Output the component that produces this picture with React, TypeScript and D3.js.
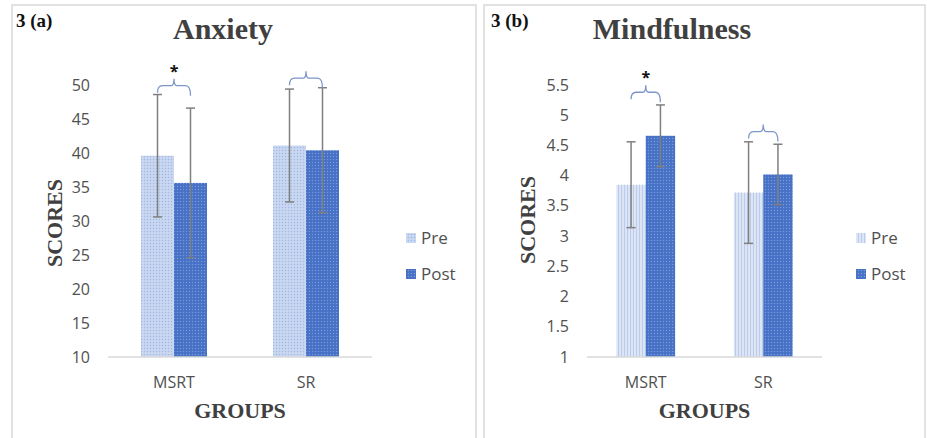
import React from 'react'
import * as d3 from 'd3'

const groups = ['MSRT', 'SR']
const seriesNames = ['Pre', 'Post']

const anxietyPre = [39.6, 41.1]
const anxietyPost = [35.6, 40.4]
const anxietyPreErr = [9.0, 8.3]
const anxietyPostErr = [11.0, 9.2]
const anxietyTicks = [10, 15, 20, 25, 30, 35, 40, 45, 50]
const anxietyBracket = [49.9, 51.0]
const anxietyStar = [true, false]

const mindPre = [3.85, 3.72]
const mindPost = [4.66, 4.02]
const mindPreErr = [0.71, 0.84]
const mindPostErr = [0.51, 0.5]
const mindTicks = [1, 1.5, 2, 2.5, 3, 3.5, 4, 4.5, 5, 5.5]
const mindBracket = [5.38, 4.73]
const mindStar = [true, false]

const serif = '"Liberation Serif", "DejaVu Serif", serif'
const sans = '"Open Sans", "Noto Sans", sans-serif'

type PanelProps = {
  tag: string
  title: string
  titleX: number
  pre: number[]
  post: number[]
  preErr: number[]
  postErr: number[]
  ticks: number[]
  bracket: number[]
  star: boolean[]
  x0: number
  x1: number
  tagX: number
  scoresX: number
  scoresY: number
  legendX: number
  preFill: string
}

function Panel(p: PanelProps) {
  const y = d3
    .scaleLinear()
    .domain([p.ticks[0], p.ticks[p.ticks.length - 1]])
    .range([357, 85])
  const x = d3.scaleBand().domain(groups).range([p.x0, p.x1]).paddingInner(0.5).paddingOuter(0.25)
  const sub = d3.scaleBand().domain(seriesNames).range([0, x.bandwidth()])
  const base = y.domain()[0]

  const series = [
    { name: 'Pre', vals: p.pre, errs: p.preErr, fill: p.preFill },
    { name: 'Post', vals: p.post, errs: p.postErr, fill: 'url(#postPat)' }
  ]

  return (
    <g>
      <text x={p.tagX} y={27} fontFamily={serif} fontWeight="bold" fontSize={19} fill="#111">
        {p.tag}
      </text>
      <text x={p.titleX} y={39} textAnchor="middle" fontFamily={serif} fontWeight="bold" fontSize={30} fill="#404040">
        {p.title}
      </text>
      {p.ticks.map(t => (
        <text key={t} x={p.x0 - 18} y={y(t) + 5.5} textAnchor="end" fontFamily={sans} fontSize={16} fill="#505050">
          {String(t)}
        </text>
      ))}
      {series.map(s =>
        groups.map((g, i) => {
          const bx = (x(g) as number) + (sub(s.name) as number)
          return (
            <rect
              key={s.name + g}
              x={bx}
              y={y(s.vals[i])}
              width={sub.bandwidth()}
              height={y(base) - y(s.vals[i])}
              fill={s.fill}
            />
          )
        })
      )}
      <line x1={p.x0} x2={p.x1} y1={y(base)} y2={y(base)} stroke="#d9d9d9" strokeWidth={1.5} />
      {series.map(s =>
        groups.map((g, i) => {
          const cx = (x(g) as number) + (sub(s.name) as number) + sub.bandwidth() / 2
          const hi = y(s.vals[i] + s.errs[i])
          const lo = y(s.vals[i] - s.errs[i])
          return (
            <g key={'e' + s.name + g} stroke="#7f7f7f" strokeWidth={1.5}>
              <line x1={cx} x2={cx} y1={hi} y2={lo} />
              <line x1={cx - 4.5} x2={cx + 4.5} y1={hi} y2={hi} />
              <line x1={cx - 4.5} x2={cx + 4.5} y1={lo} y2={lo} />
            </g>
          )
        })
      )}
      {groups.map((g, i) => {
        const l = (x(g) as number) + sub.bandwidth() / 2
        const r = l + sub.bandwidth()
        const m = (l + r) / 2
        const by = y(p.bracket[i])
        const d = `M${l},${by + 7} Q${l},${by} ${l + 5},${by} L${m - 3},${by} Q${m},${by} ${m},${by - 7} Q${m},${by} ${m + 3},${by} L${r - 5},${by} Q${r},${by} ${r},${by + 10}`
        return (
          <g key={'b' + g}>
            <path d={d} fill="none" stroke="#7d95c8" strokeWidth={1.3} />
            {p.star[i] && (
              <text x={m} y={by - 9} textAnchor="middle" fontFamily={sans} fontWeight="bold" fontSize={16} fill="#111">
                *
              </text>
            )}
          </g>
        )
      })}
      {groups.map(g => (
        <text
          key={'c' + g}
          x={(x(g) as number) + x.bandwidth() / 2}
          y={388}
          textAnchor="middle"
          fontFamily={sans}
          fontSize={16}
          fill="#505050"
        >
          {g}
        </text>
      ))}
      <text
        x={(p.x0 + p.x1) / 2}
        y={418}
        textAnchor="middle"
        fontFamily={serif}
        fontWeight="bold"
        fontSize={22}
        fill="#404040"
      >
        GROUPS
      </text>
      <text
        transform={`translate(${p.scoresX}, ${p.scoresY}) rotate(-90)`}
        textAnchor="middle"
        fontFamily={serif}
        fontWeight="bold"
        fontSize={22}
        fill="#404040"
      >
        SCORES
      </text>
      {series.map((s, k) => (
        <g key={'lg' + s.name}>
          <rect x={p.legendX} y={233 + k * 36} width={10} height={10} fill={s.fill} />
          <text x={p.legendX + 15} y={244 + k * 36} fontFamily={sans} fontSize={17} fill="#505050">
            {s.name}
          </text>
        </g>
      ))}
    </g>
  )
}

export default function App() {
  return (
    <svg width={927} height={438} style={{ position: 'absolute', left: 0, top: 0, background: '#fff' }}>
      <defs>
        <pattern id="prePat" width={3} height={3} patternUnits="userSpaceOnUse">
          <rect width={3} height={3} fill="#c3d3ef" />
          <rect width={1} height={1} fill="#a2b8e2" />
          <rect x={1.5} y={1.5} width={1} height={1} fill="#dbe4f5" />
        </pattern>
        <pattern id="preStripe" width={3} height={3} patternUnits="userSpaceOnUse">
          <rect width={3} height={3} fill="#dce5f5" />
          <rect width={1} height={3} fill="#bccbe9" />
        </pattern>
        <pattern id="postPat" width={3} height={3} patternUnits="userSpaceOnUse">
          <rect width={3} height={3} fill="#4a75c8" />
          <rect width={1} height={1} fill="#7c9bd8" />
          <rect x={1.5} y={1.5} width={1} height={1} fill="#3d66b8" />
        </pattern>
      </defs>
      <rect x={12} y={5} width={464} height={440} fill="none" stroke="#d9d9d9" strokeWidth={1.5} />
      <rect x={484} y={5} width={441} height={440} fill="none" stroke="#d9d9d9" strokeWidth={1.5} />
      <Panel
        tag="3 (a)"
        title="Anxiety"
        titleX={223}
        pre={anxietyPre}
        post={anxietyPost}
        preErr={anxietyPreErr}
        postErr={anxietyPostErr}
        ticks={anxietyTicks}
        bracket={anxietyBracket}
        star={anxietyStar}
        x0={108}
        x1={372}
        tagX={16}
        scoresX={62}
        scoresY={223}
        legendX={406}
        preFill="url(#prePat)"
      />
      <Panel
        tag="3 (b)"
        title="Mindfulness"
        titleX={672}
        pre={mindPre}
        post={mindPost}
        preErr={mindPreErr}
        postErr={mindPostErr}
        ticks={mindTicks}
        bracket={mindBracket}
        star={mindStar}
        x0={587}
        x1={822}
        tagX={491}
        scoresX={535}
        scoresY={220}
        legendX={856}
        preFill="url(#preStripe)"
      />
    </svg>
  )
}
